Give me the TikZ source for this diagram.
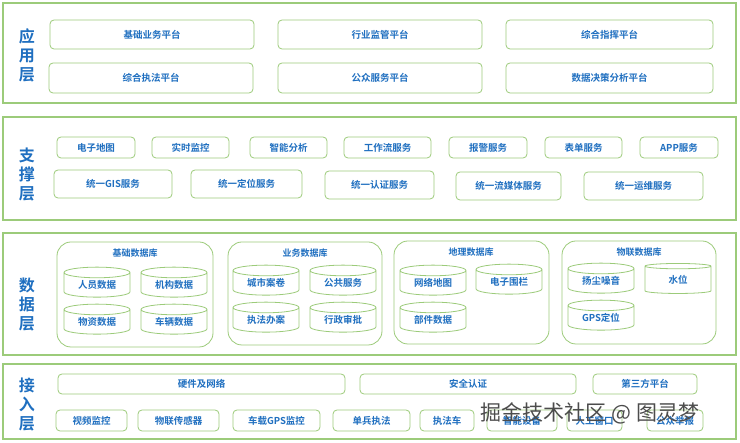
\documentclass[tikz,border=0pt]{standalone}
\usepackage{fontspec}
\setmainfont{Noto Sans CJK SC}[BoldFont={Noto Sans CJK SC Bold}]
\usetikzlibrary{shapes.geometric}
\definecolor{gb}{HTML}{9CCB7A}
\definecolor{tb}{HTML}{1F6FC0}
\tikzset{
  layer/.style={draw=gb,line width=1.2pt,fill=white},
  box/.style={draw=gb,line width=0.8pt,rounded corners=4pt,text=tb,font=\bfseries\fontsize{9.5}{10}\selectfont},
  grp/.style={draw=gb,line width=0.8pt,rounded corners=14pt},
  cyl/.style={draw=gb,line width=0.8pt,cylinder,shape border rotate=90,aspect=0.28,minimum width=66pt,minimum height=30pt,text=tb,font=\bfseries\fontsize{9.5}{10}\selectfont,inner sep=0pt},
  lab/.style={text=tb,font=\bfseries\fontsize{16}{19}\selectfont,align=center},
  gt/.style={text=tb,font=\bfseries\fontsize{9}{10}\selectfont}
}
\newcommand{\bx}[6]{\draw[box] (#2,#3) rectangle (#4,#5) node[midway] (#1) {#6};}
\begin{document}
\begin{tikzpicture}[x=1pt,y=-1pt]
\useasboundingbox[fill=white] (0,0) rectangle (740,443);
% app layer
\draw[layer] (3,3) rectangle (736,103);
\node[lab] (L1) at (27,55) {应\\用\\层};
\bx{a1}{50}{20}{254}{49}{基础业务平台}
\bx{a2}{278}{20}{482}{49}{行业监管平台}
\bx{a3}{506}{20}{713}{49}{综合指挥平台}
\bx{a4}{49}{63}{253}{93}{综合执法平台}
\bx{a5}{278}{63}{482}{93}{公众服务平台}
\bx{a6}{506}{63}{713}{93}{数据决策分析平台}
% support layer
\draw[layer] (3,117) rectangle (736,220);
\node[lab] (L2) at (27,175) {支\\撑\\层};
\bx{s1}{57}{137}{135}{158}{电子地图}
\bx{s2}{152}{137}{229}{158}{实时监控}
\bx{s3}{250}{137}{327}{158}{智能分析}
\bx{s4}{344}{137}{431}{158}{工作流服务}
\bx{s5}{449}{137}{527}{158}{报警服务}
\bx{s6}{545}{137}{622}{158}{表单服务}
\bx{s7}{640}{137}{718}{158}{APP服务}
\bx{s8}{54}{170}{172}{198}{统一GIS服务}
\bx{s9}{191}{170}{302}{198}{统一定位服务}
\bx{s10}{325}{171}{434}{199}{统一认证服务}
\bx{s11}{456}{172}{561}{200}{统一流媒体服务}
\bx{s12}{584}{172}{703}{200}{统一运维服务}
% data layer
\draw[layer] (3,233) rectangle (736,355);
\node[lab] (L3) at (27,305) {数\\据\\层};
\draw[grp] (57,242) rectangle (213,347);
\node[gt] (g1) at (135,253) {基础数据库};
\node[cyl] (c1) at (97,285) {人员数据};
\node[cyl] (c2) at (174,285) {机构数据};
\node[cyl] (c3) at (97,322) {物资数据};
\node[cyl] (c4) at (174,322) {车辆数据};
\draw[grp] (228,242) rectangle (382,345);
\node[gt] (g2) at (305,253) {业务数据库};
\node[cyl] (c5) at (266,283) {城市案卷};
\node[cyl] (c6) at (343,283) {公共服务};
\node[cyl] (c7) at (266,320) {执法办案};
\node[cyl] (c8) at (343,320) {行政审批};
\draw[grp] (394,241) rectangle (549,344);
\node[gt] (g3) at (471,252) {地理数据库};
\node[cyl] (c9) at (433,283) {网络地图};
\node[cyl] (c10) at (509,282) {电子围栏};
\node[cyl] (c11) at (433,320) {部件数据};
\draw[grp] (562,241) rectangle (716,344);
\node[gt] (g4) at (639,252) {物联数据库};
\node[cyl] (c12) at (601,281) {扬尘噪音};
\node[cyl] (c13) at (678,280) {水位};
\node[cyl] (c14) at (601,318) {GPS定位};
% access layer
\draw[layer] (3,364) rectangle (736,439);
\node[lab] (L4) at (27,405) {接\\入\\层};
\bx{i1}{58}{374}{345}{394}{硬件及网络}
\bx{i2}{360}{374}{576}{394}{安全认证}
\bx{i3}{593}{374}{697}{394}{第三方平台}
\bx{i4}{56}{410}{127}{431}{视频监控}
\bx{i5}{138}{410}{219}{431}{物联传感器}
\bx{i6}{233}{410}{320}{431}{车载GPS监控}
\bx{i7}{333}{410}{410}{431}{单兵执法}
\bx{i8}{420}{410}{474}{431}{执法车}
\bx{i9}{487}{410}{557}{431}{智能设备}
\bx{i10}{567}{410}{622}{431}{人工窗口}
\bx{i11}{647}{410}{703}{431}{公众举报}
\node[text=black!70,font=\fontsize{21}{22}\selectfont] (wm) at (590,413) {掘金技术社区 @ 图灵梦};
\end{tikzpicture}
\end{document}
